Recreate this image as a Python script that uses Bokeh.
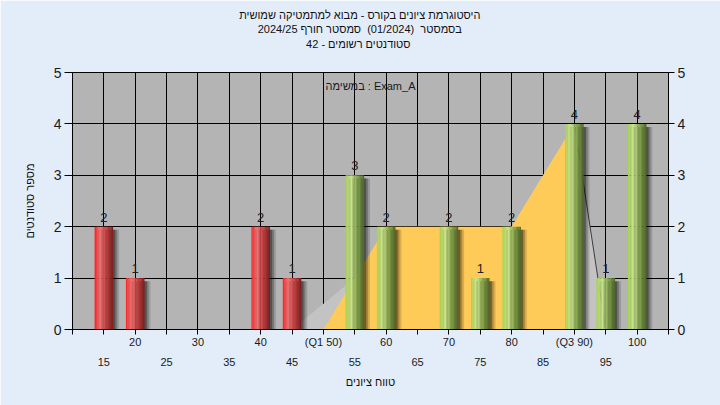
import numpy as np
from bokeh.plotting import figure
from bokeh.models import (Range1d, LinearAxis, FixedTicker, Label, ColumnDataSource, Title)
from bokeh.core.properties import value
from bokeh.embed import file_html
from bokeh.resources import INLINE

# ---- data ----
grades = [15, 20, 25, 30, 35, 40, 45, 50, 55, 60, 65, 70, 75, 80, 85, 90, 95, 100]
counts = [2, 1, 0, 0, 0, 2, 1, 0, 3, 2, 0, 2, 1, 2, 0, 4, 1, 4]
pass_grade = 55
upper_labels = {20: "20", 30: "30", 40: "40", 50: "(Q1 50)", 60: "60", 70: "70",
                80: "80", 90: "(Q3 90)", 100: "100"}
lower_labels = {15: "15", 25: "25", 35: "35", 45: "45", 55: "55", 65: "65",
                75: "75", 85: "85", 95: "95"}
iqr_x = [50, 60, 80, 90, 90]
iqr_y = [0, 2, 2, 4, 0]
range_x = [45, 55, 60, 80, 90, 95, 100]
range_y = [0, 1, 1, 2, 4, 0, 0]
NB = "\u00a0"
title_lines = ["היסטוגרמת ציונים בקורס - מבוא למתמטיקה שמושית",
               "בסמסטר" + NB * 2 + "(01/2024)" + NB * 2 + "סמסטר חורף 2024/25",
               "סטודנטים רשומים - 42"]
task_text = "במשימה : Exam_A"
x_title = "טווח ציונים"
y_title = "מספר סטודנטים"

FONT = "Liberation Sans"

p = figure(width=720, height=405, output_backend="svg", toolbar_location=None,
           x_range=Range1d(10, 105), y_range=Range1d(0, 5),
           min_border_left=72, min_border_right=52, min_border_top=72, min_border_bottom=76,
           background_fill_color="#b4b4b4", border_fill_color="#e3edf9",
           outline_line_color="black", title=None)

# third title line: label of an invisible axis just above the plot
tax = LinearAxis(ticker=FixedTicker(ticks=[]))
tax.axis_line_color = None
tax.major_tick_out = 0
tax.major_tick_in = 0
tax.minor_tick_out = 0
tax.minor_tick_in = 0
tax.major_label_standoff = 0
tax.axis_label = title_lines[2] + NB * 8
tax.axis_label_text_font = FONT
tax.axis_label_text_font_size = "11px"
tax.axis_label_text_font_style = "normal"
tax.axis_label_text_color = "#111111"
tax.axis_label_standoff = 23
p.add_layout(tax, "above")

# first two title lines (closest to the plot first)
for line in reversed(title_lines[:2]):
    t = Title(text=line + NB * 7, align="center", text_font=FONT, text_font_size="11px",
              text_font_style="normal", text_color="#111111", standoff=0)
    p.add_layout(t, "above")

# grids
p.xgrid.ticker = FixedTicker(ticks=list(range(10, 106, 5)))
p.ygrid.ticker = FixedTicker(ticks=[0, 1, 2, 3, 4, 5])
p.xgrid.grid_line_color = "black"
p.ygrid.grid_line_color = "black"

# axes
p.below = []
p.left = []

xt = list(range(10, 106, 5))
ax1 = LinearAxis(ticker=FixedTicker(ticks=xt),
                 major_label_overrides={t: upper_labels.get(t, "") for t in xt})
ax1.major_tick_out = 5
ax1.major_tick_in = 0
ax1.minor_tick_out = 0
ax1.major_label_standoff = 1
ax1.major_label_text_font = FONT
ax1.major_label_text_font_size = "11px"
ax1.major_label_text_color = "#1a1a1a"
ax1.axis_line_color = "black"
p.add_layout(ax1, "below")

lt = sorted(lower_labels.keys())
ax2 = LinearAxis(ticker=FixedTicker(ticks=lt),
                 major_label_overrides={t: lower_labels[t] for t in lt})
ax2.major_tick_out = 0
ax2.major_tick_in = 0
ax2.minor_tick_out = 0
ax2.axis_line_color = None
ax2.major_label_standoff = 7
ax2.major_label_text_font = FONT
ax2.major_label_text_font_size = "11px"
ax2.major_label_text_color = "#1a1a1a"
ax2.axis_label = x_title
ax2.axis_label_text_font = FONT
ax2.axis_label_text_font_size = "11px"
ax2.axis_label_text_font_style = "normal"
ax2.axis_label_text_color = "#111111"
ax2.axis_label_standoff = 7
p.add_layout(ax2, "below")

for side in ("left", "right"):
    ay = LinearAxis(ticker=FixedTicker(ticks=[0, 1, 2, 3, 4, 5]))
    ay.major_tick_out = 8 if side == "left" else 6
    ay.major_tick_in = 0
    ay.minor_tick_out = 0
    ay.major_label_standoff = 3
    ay.major_label_text_font = FONT
    ay.major_label_text_font_size = "14px"
    ay.major_label_text_color = "#1a1a1a"
    ay.axis_line_color = "black"
    if side == "left":
        ay.axis_label = y_title
        ay.axis_label_text_font = FONT
        ay.axis_label_text_font_size = "11px"
        ay.axis_label_text_font_style = "normal"
        ay.axis_label_text_color = "#111111"
        ay.axis_label_standoff = 15
    p.add_layout(ay, side)

# background areas
p.patch(range_x, range_y, color="#c3c3c3", line_color=None)
p.patch(iqr_x, iqr_y, color="#fecb58", line_color=None)
p.line(range_x[4:6], range_y[4:6], line_color="#3c3c3c", line_width=1)

# bars
g = np.array(grades, dtype=float)
c = np.array(counts, dtype=float)
mask = c > 0
g, c = g[mask], c[mask]
is_pass = g >= pass_grade
W = 2.95

# shadows
for off, alpha in ((0.95, 0.14), (0.65, 0.22), (0.35, 0.32)):
    p.vbar(x=g + off, top=c - 0.06, bottom=-0.1, width=W, color="black",
           alpha=alpha, line_color=None)

def hex2rgb(h):
    return np.array([int(h[i:i + 2], 16) for i in (1, 3, 5)], dtype=float)

red_stops = [(0.0, "#ff1c1c"), (0.3, "#f07474"), (0.58, "#d04444"), (1.0, "#7c1a1a")]
green_stops = [(0.0, "#a4d04a"), (0.3, "#cbe692"), (0.6, "#8aab52"), (1.0, "#4a6526")]

def color_at(stops, t):
    for (t0, c0), (t1, c1) in zip(stops[:-1], stops[1:]):
        if t0 <= t <= t1:
            f = (t - t0) / (t1 - t0)
            rgb = hex2rgb(c0) * (1 - f) + hex2rgb(c1) * f
            return "#%02x%02x%02x" % tuple(int(round(v)) for v in rgb)
    return stops[-1][1]

N = 14
sw = W / N
for k in range(N):
    t = (k + 0.5) / N
    xs = g - W / 2 + (k + 0.5) * sw
    cols = [color_at(green_stops, t) if ip else color_at(red_stops, t) for ip in is_pass]
    src = ColumnDataSource(dict(x=xs, top=c, color=cols))
    p.vbar(x="x", top="top", bottom=0, width=sw * 1.05, color="color",
           line_color=None, source=src)

# value labels
p.text(x=g, y=c, text=[str(int(v)) for v in c], text_align="center",
       text_baseline="bottom", y_offset=-5, text_font=value(FONT),
       text_font_size="13px", text_color="#1c2028")

p.add_layout(Label(x=57.5, y=4.73, text=task_text, text_align="center",
                   text_baseline="middle", text_font=FONT, text_font_size="11px",
                   text_color="#1a1a1a"))

open("out.html", "w").write(file_html(p, INLINE))
